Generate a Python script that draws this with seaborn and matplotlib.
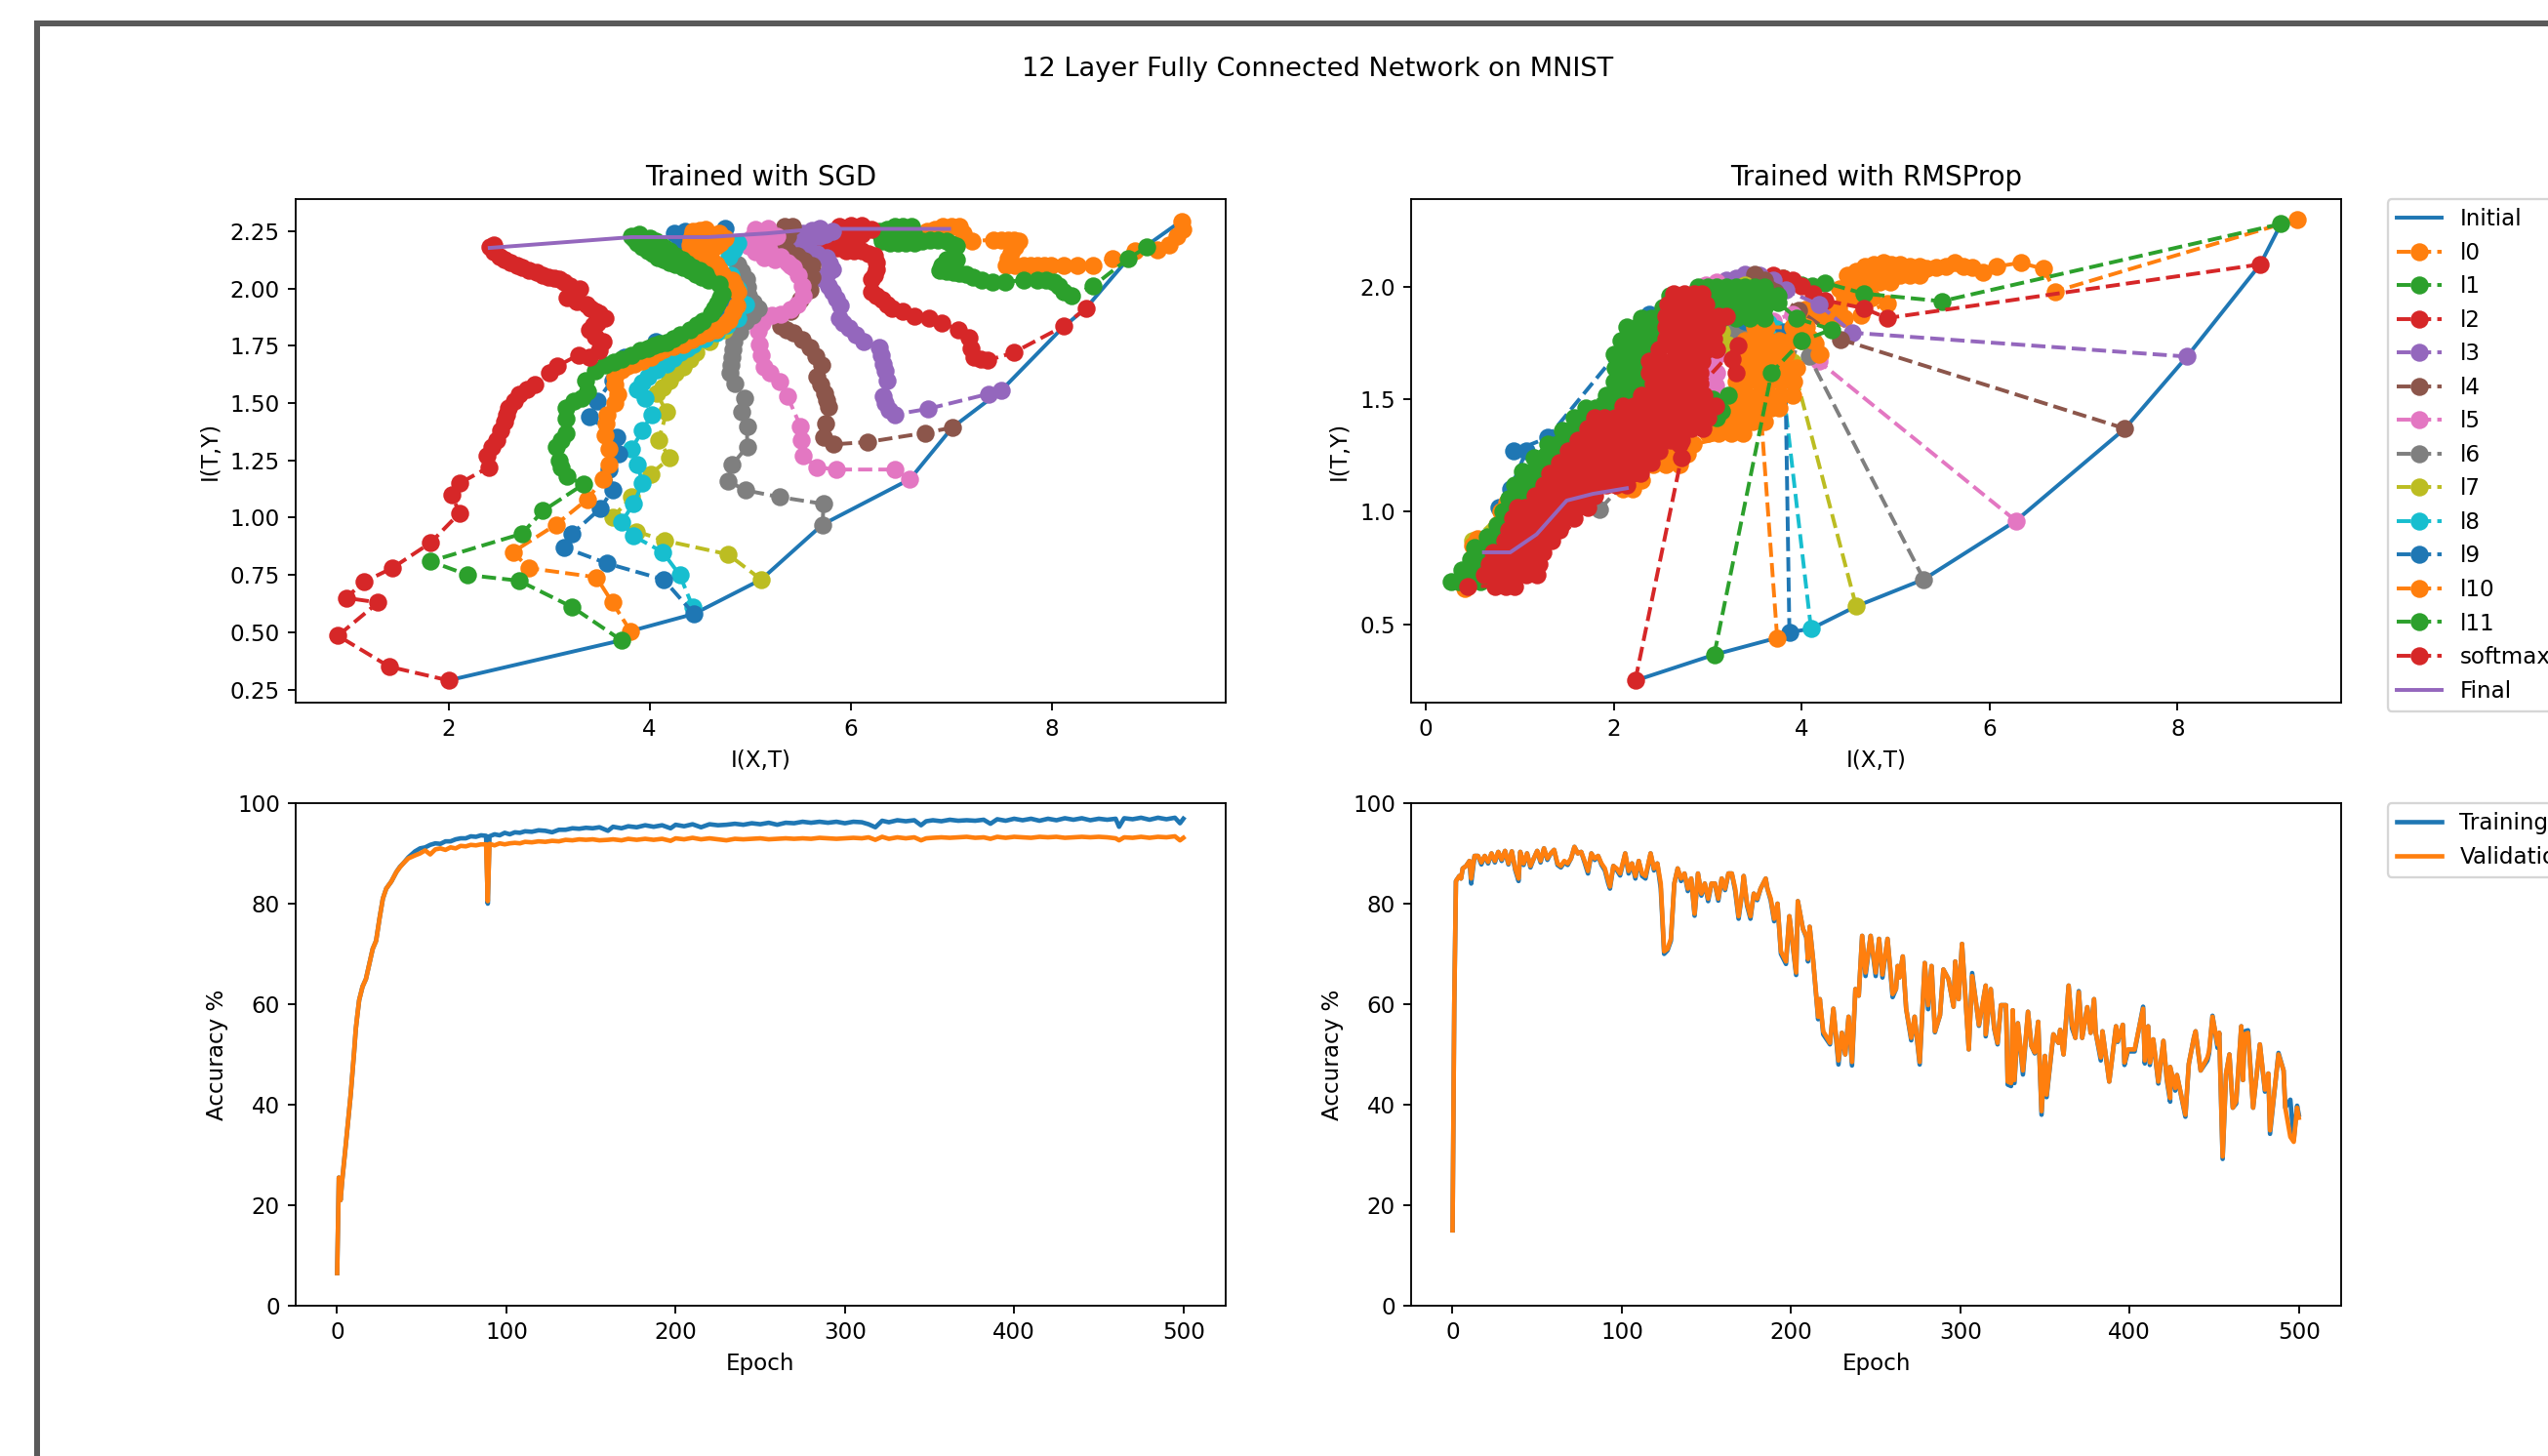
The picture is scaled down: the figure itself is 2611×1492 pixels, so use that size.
import matplotlib
matplotlib.use("Agg")
import matplotlib.pyplot as plt
from matplotlib.patches import Rectangle
import seaborn as sns

layer_names = ["l0", "l1", "l2", "l3", "l4", "l5", "l6", "l7", "l8", "l9", "l10", "l11", "softmax"]
colors = sns.color_palette("tab10")
layer_colors = [colors[1], colors[2], colors[3], colors[4], colors[5], colors[6], colors[7],
                colors[8], colors[9], colors[0], colors[1], colors[2], colors[3]]

# ---- SGD information plane, (I(X,T), I(T,Y))
sgd_initial = [(2.00, 0.29), (3.72, 0.465), (3.81, 0.505), (4.44, 0.58), (5.11, 0.73), (5.72, 0.97),
               (6.59, 1.168), (7.01, 1.393), (7.50, 1.556), (8.11, 1.83), (8.34, 1.914), (8.76, 2.13), (9.21, 2.27)]
sgd_final = [(2.41, 2.177), (3.82, 2.224), (4.58, 2.224), (5.16, 2.24), (5.67, 2.26), (6.98, 2.26)]

sgd_l0 = [(9.29, 2.29), (9.30, 2.26), (9.24, 2.23), (9.17, 2.19), (9.05, 2.17), (8.83, 2.165), (8.60, 2.13),
          (8.41, 2.10), (8.25, 2.10), (8.12, 2.10), (7.99, 2.10), (7.92, 2.10), (7.86, 2.10), (7.79, 2.10), (7.72, 2.10), (7.63, 2.10), (7.55, 2.10),
          (7.57, 2.13), (7.59, 2.156), (7.63, 2.18), (7.67, 2.206), (7.62, 2.21), (7.57, 2.213), (7.50, 2.213), (7.42, 2.213), (7.21, 2.206),
          (7.12, 2.242), (7.08, 2.27), (7.00, 2.27), (6.92, 2.27), (6.84, 2.26), (6.76, 2.25)]
sgd_l1 = [(8.94, 2.18), (8.76, 2.13), (8.41, 2.01), (8.20, 1.97), (8.12, 1.985), (8.07, 2.01), (8.02, 2.03), (7.94, 2.035), (7.86, 2.035), (7.72, 2.035),
          (7.54, 2.03), (7.41, 2.03), (7.30, 2.035), (7.22, 2.05), (7.15, 2.064), (7.08, 2.066), (7.02, 2.07), (6.95, 2.074), (6.89, 2.078), (6.91, 2.10),
          (6.95, 2.128), (7.05, 2.128), (7.05, 2.185), (7.00, 2.195), (6.95, 2.206), (6.87, 2.21), (6.79, 2.213), (6.71, 2.205), (6.63, 2.20), (6.55, 2.20),
          (6.47, 2.20), (6.39, 2.20), (6.31, 2.206), (6.30, 2.23), (6.28, 2.25), (6.36, 2.26), (6.44, 2.27), (6.52, 2.27), (6.60, 2.27), (6.62, 2.24), (6.60, 2.213),
          (6.50, 2.22), (6.41, 2.242), (6.50, 2.245)]
sgd_l2 = [(8.34, 1.914), (8.12, 1.836), (7.62, 1.72), (7.36, 1.686), (7.29, 1.69), (7.23, 1.70), (7.20, 1.74), (7.18, 1.786), (7.07, 1.82), (6.91, 1.85),
          (6.78, 1.87), (6.63, 1.879), (6.52, 1.90), (6.41, 1.914), (6.36, 1.93), (6.31, 1.95), (6.26, 1.97), (6.21, 1.985), (6.21, 2.042), (6.24, 2.06), (6.26, 2.085),
          (6.26, 2.115), (6.24, 2.142), (6.18, 2.15), (6.11, 2.163), (6.03, 2.163), (5.95, 2.163), (5.87, 2.175), (5.79, 2.185), (5.66, 2.192), (5.85, 2.20),
          (6.00, 2.215), (6.11, 2.235), (6.03, 2.235), (5.95, 2.228), (5.92, 2.25), (5.89, 2.27), (6.00, 2.275), (6.11, 2.277), (6.21, 2.256)]
sgd_l3 = [(7.50, 1.556), (7.37, 1.54), (6.77, 1.475), (6.44, 1.45), (6.38, 1.47), (6.34, 1.50), (6.32, 1.53), (6.36, 1.60), (6.34, 1.64),
          (6.32, 1.672), (6.30, 1.71), (6.28, 1.743), (6.13, 1.77), (6.05, 1.80), (5.98, 1.829), (5.93, 1.85), (5.89, 1.871), (5.90, 1.928), (5.86, 1.955), (5.82, 1.985),
          (5.78, 2.01), (5.73, 2.042), (5.77, 2.065), (5.82, 2.085), (5.79, 2.11), (5.76, 2.135), (5.66, 2.15), (5.56, 2.163), (5.43, 2.192), (5.48, 2.22),
          (5.53, 2.242), (5.61, 2.253), (5.69, 2.263), (5.82, 2.25), (5.75, 2.235), (5.69, 2.228), (5.60, 2.215)]
sgd_l4 = [(7.01, 1.393), (6.74, 1.37), (6.17, 1.33), (5.83, 1.32), (5.73, 1.35), (5.75, 1.41), (5.78, 1.485), (5.76, 1.515), (5.74, 1.544), (5.70, 1.58),
          (5.66, 1.615), (5.71, 1.665), (5.65, 1.705), (5.60, 1.743), (5.52, 1.775), (5.43, 1.807), (5.36, 1.82), (5.30, 1.836), (5.40, 1.90), (5.50, 1.95), (5.60, 1.993),
          (5.61, 2.05), (5.61, 2.10), (5.54, 2.12), (5.47, 2.142), (5.37, 2.165), (5.27, 2.185), (5.32, 2.205), (5.37, 2.228), (5.35, 2.25), (5.34, 2.27), (5.42, 2.27)]
sgd_l5 = [(6.59, 1.168), (6.44, 1.21), (5.86, 1.21), (5.66, 1.22), (5.53, 1.27), (5.51, 1.34), (5.50, 1.40), (5.37, 1.53), (5.29, 1.594), (5.20, 1.63),
          (5.14, 1.658), (5.11, 1.71), (5.09, 1.757), (5.08, 1.814), (5.12, 1.85), (5.16, 1.879), (5.22, 1.885), (5.30, 1.886), (5.40, 1.91), (5.47, 1.93), (5.53, 1.97),
          (5.52, 2.01), (5.48, 2.057), (5.43, 2.09), (5.37, 2.114), (5.25, 2.125), (5.14, 2.135), (5.05, 2.16), (4.98, 2.185), (5.01, 2.22), (5.05, 2.256), (5.18, 2.263),
          (5.27, 2.228), (5.18, 2.185), (5.10, 2.19), (5.20, 2.16), (5.30, 2.14), (5.40, 2.10), (5.05, 2.20), (5.15, 2.22)]
sgd_l6 = [(5.72, 0.97), (5.73, 1.06), (5.29, 1.09), (4.95, 1.12), (4.78, 1.16), (4.82, 1.23), (4.97, 1.31), (4.97, 1.40),
          (4.92, 1.46), (4.94, 1.52), (4.85, 1.587), (4.80, 1.63), (4.81, 1.665), (4.82, 1.70), (4.83, 1.735), (4.84, 1.77), (4.90, 1.81), (4.95, 1.857), (5.02, 1.885),
          (5.08, 1.914), (5.03, 1.94), (4.98, 1.97), (4.97, 2.005), (4.965, 2.04), (4.92, 2.075), (4.88, 2.106)]
sgd_l7 = [(5.11, 0.73), (4.78, 0.84), (4.15, 0.90), (3.87, 0.94), (3.63, 1.00), (3.82, 1.09), (4.01, 1.19), (4.20, 1.26),
          (4.09, 1.34), (4.17, 1.46), (4.07, 1.544), (4.13, 1.57), (4.20, 1.60), (4.26, 1.63), (4.33, 1.658), (4.40, 1.69), (4.46, 1.722), (4.60, 1.77), (4.74, 1.82)]
sgd_l8 = [(4.43, 0.61), (4.30, 0.75), (4.13, 0.85), (3.84, 0.92), (3.72, 0.98), (3.84, 1.06), (3.93, 1.15), (3.88, 1.23),
          (3.82, 1.30), (3.93, 1.38), (4.02, 1.45), (3.95, 1.52), (3.88, 1.558), (3.93, 1.59), (3.98, 1.615), (4.07, 1.645), (4.17, 1.672), (4.24, 1.695), (4.30, 1.72), (4.37, 1.74),
          (4.43, 1.757), (4.55, 1.78), (4.66, 1.807), (4.77, 1.84), (4.88, 1.87), (4.95, 1.93), (4.88, 2.00), (4.81, 2.06), (4.79, 2.14), (4.84, 2.17), (4.88, 2.20)]
sgd_l9 = [(4.44, 0.58), (4.14, 0.73), (3.58, 0.80), (3.15, 0.87), (3.23, 0.93), (3.51, 1.04), (3.63, 1.12), (3.60, 1.21),
          (3.69, 1.28), (3.67, 1.35), (3.40, 1.44), (3.48, 1.51), (3.63, 1.60), (3.75, 1.70), (4.06, 1.77), (4.30, 1.76), (4.60, 1.83),
          (4.80, 1.93), (4.70, 2.03), (4.40, 2.16), (4.30, 2.20), (4.25, 2.24), (4.35, 2.25), (4.75, 2.263)]
sgd_l10 = [(3.81, 0.505), (3.63, 0.63), (3.47, 0.74), (2.80, 0.78), (2.64, 0.85), (3.07, 0.97), (3.38, 1.08), (3.54, 1.17),
           (3.60, 1.23), (3.60, 1.30), (3.56, 1.36), (3.57, 1.41), (3.58, 1.45), (3.65, 1.50), (3.68, 1.54), (3.65, 1.58), (3.65, 1.615),
           (3.72, 1.643), (3.78, 1.66), (3.85, 1.67), (3.93, 1.685), (4.01, 1.70), (4.08, 1.72), (4.14, 1.736), (4.24, 1.745), (4.33, 1.757), (4.42, 1.775), (4.50, 1.793), (4.58, 1.805),
           (4.66, 1.82), (4.73, 1.84), (4.79, 1.864), (4.83, 1.895), (4.87, 1.928), (4.88, 1.985), (4.85, 2.01), (4.82, 2.035), (4.72, 2.064), (4.69, 2.085), (4.66, 2.106),
           (4.60, 2.115), (4.53, 2.128), (4.47, 2.145), (4.40, 2.163), (4.40, 2.19), (4.41, 2.213), (4.42, 2.23), (4.43, 2.25), (4.50, 2.255), (4.56, 2.256), (4.69, 2.242), (4.75, 2.22),
           (4.70, 2.20), (4.66, 2.185), (4.56, 2.17), (4.61, 2.128), (4.50, 2.20), (4.60, 2.21)]
sgd_l11 = [(3.72, 0.465), (3.23, 0.61), (2.70, 0.725), (2.19, 0.75), (1.82, 0.81), (2.73, 0.93), (2.94, 1.03), (3.34, 1.145),
           (3.18, 1.18), (3.12, 1.22), (3.10, 1.25), (3.07, 1.31), (3.12, 1.34), (3.17, 1.37), (3.17, 1.43), (3.17, 1.48),
           (3.25, 1.51), (3.32, 1.52), (3.38, 1.55), (3.36, 1.60), (3.46, 1.64), (3.56, 1.665), (3.64, 1.68), (3.72, 1.69), (3.82, 1.71), (3.91, 1.73), (3.98, 1.74),
           (4.04, 1.75), (4.10, 1.758), (4.17, 1.765), (4.24, 1.78), (4.30, 1.80), (4.40, 1.82), (4.47, 1.84), (4.53, 1.857), (4.61, 1.893), (4.64, 1.915), (4.67, 1.936), (4.70, 1.958),
           (4.72, 1.978), (4.69, 2.02), (4.59, 2.035), (4.52, 2.05), (4.46, 2.064), (4.40, 2.078), (4.33, 2.092), (4.26, 2.103), (4.20, 2.114), (4.14, 2.125), (4.08, 2.135), (4.03, 2.15),
           (3.98, 2.163), (3.93, 2.18), (3.88, 2.20), (3.85, 2.215), (3.82, 2.228), (3.90, 2.235), (4.00, 2.22), (4.06, 2.205), (4.11, 2.19), (4.15, 2.175), (4.20, 2.163), (4.26, 2.145),
           (4.32, 2.128), (4.37, 2.11), (4.43, 2.092), (4.50, 2.078), (4.56, 2.064)]
sgd_softmax = [(2.00, 0.29), (1.41, 0.35), (0.90, 0.485), (1.30, 0.63), (0.98, 0.65), (1.16, 0.72), (1.44, 0.78), (1.82, 0.89),
               (2.11, 1.02), (2.03, 1.10), (2.11, 1.15), (2.40, 1.22), (2.38, 1.27), (2.43, 1.31), (2.48, 1.34), (2.52, 1.38), (2.56, 1.42),
               (2.58, 1.45), (2.60, 1.48), (2.65, 1.51), (2.70, 1.54), (2.78, 1.56), (2.86, 1.58), (3.00, 1.63), (3.08, 1.66), (3.29, 1.71), (3.40, 1.70), (3.50, 1.73), (3.54, 1.77), (3.46, 1.79), (3.40, 1.82),
               (3.44, 1.84), (3.48, 1.85), (3.56, 1.87), (3.50, 1.89), (3.46, 1.90), (3.41, 1.915), (3.37, 1.93), (3.28, 1.945), (3.18, 1.96), (3.24, 1.98), (3.30, 2.00), (3.21, 2.01), (3.15, 2.03), (3.10, 2.04), (3.05, 2.045), (2.99, 2.05),
               (2.94, 2.06), (2.88, 2.07), (2.80, 2.08), (2.73, 2.09), (2.68, 2.10), (2.62, 2.115), (2.56, 2.125), (2.51, 2.14), (2.45, 2.16), (2.41, 2.18), (2.45, 2.19)]

# ---- RMSProp information plane
rms_initial = [(2.23, 0.25), (3.07, 0.365), (3.74, 0.44), (3.87, 0.465), (4.10, 0.48), (4.58, 0.58), (5.30, 0.70),
               (6.28, 0.96), (7.44, 1.37), (8.10, 1.69), (8.88, 2.10), (9.10, 2.28)]
rms_final = [(0.62, 0.82), (0.90, 0.82), (1.18, 0.90), (1.50, 1.05), (1.78, 1.08), (2.14, 1.105)]

rms_l0 = [(9.27, 2.30), (6.70, 1.98), (6.57, 2.08), (6.33, 2.107), (6.07, 2.09), (5.93, 2.064), (5.82, 2.086), (5.72, 2.09), (5.63, 2.107), (5.53, 2.09),
          (5.43, 2.085), (5.33, 2.08), (5.25, 2.09), (5.15, 2.09), (5.05, 2.10), (4.95, 2.10), (4.87, 2.107), (4.77, 2.10), (4.67, 2.09), (4.58, 2.07), (4.49, 2.05), (4.58, 2.03),
          (4.65, 2.05), (4.75, 2.06), (4.85, 2.06), (4.95, 2.05), (5.05, 2.05), (5.15, 2.05), (5.25, 2.05), (4.94, 2.02), (4.83, 2.02), (4.73, 2.02), (4.63, 2.00), (4.53, 1.99), (4.40, 1.99),
          (4.45, 1.95), (4.55, 1.95), (4.65, 1.95), (4.75, 1.95), (4.91, 1.926), (4.63, 1.876), (4.46, 1.86), (4.39, 1.905), (4.28, 1.91), (4.18, 1.93), (4.10, 1.91), (4.04, 1.90), (4.20, 1.87),
          (4.30, 1.84), (3.97, 1.81), (4.08, 1.774), (4.20, 1.70), (4.14, 1.75)]
rms_l1 = [(9.10, 2.28), (5.49, 1.936), (4.66, 1.97), (4.25, 2.018), (4.11, 2.006), (4.00, 2.01), (3.88, 2.02), (3.80, 2.04), (3.50, 2.05)]
rms_l2 = [(8.88, 2.10), (4.91, 1.861), (4.66, 1.905), (4.25, 1.94), (4.12, 1.97), (4.00, 2.006), (3.90, 2.03), (3.80, 2.04), (3.70, 2.05)]
rms_l3 = [(8.10, 1.69), (4.54, 1.796), (4.19, 1.92), (3.83, 1.985), (3.70, 2.03), (3.55, 2.05), (3.40, 2.055), (3.30, 2.04), (3.20, 2.03), (3.59, 1.81)]
rms_l4 = [(7.44, 1.37), (4.41, 1.767), (3.97, 1.897), (3.66, 1.99), (3.60, 2.03), (3.50, 2.055), (3.62, 2.00), (3.72, 1.98), (3.66, 1.96)]
rms_l5 = [(6.28, 0.96), (4.18, 1.67), (3.90, 1.88), (3.70, 1.85), (3.30, 1.80), (3.05, 1.68), (3.00, 1.586), (3.10, 1.62), (3.00, 1.50), (3.08, 1.56), (3.02, 1.64), (3.12, 1.70),
          (2.98, 2.01), (3.10, 2.02)]
rms_l6 = [(5.30, 0.70), (4.08, 1.69), (3.40, 1.78), (3.28, 1.796), (3.20, 1.82), (3.10, 1.75), (2.60, 1.35), (1.85, 1.01)]
rms_l7 = [(4.58, 0.58), (3.90, 1.665), (3.21, 1.745), (3.15, 1.80), (3.40, 2.01), (0.50, 0.87)]
rms_l8 = [(4.10, 0.48), (3.73, 1.815), (3.65, 1.84)]
rms_l9 = [(3.87, 0.465), (3.82, 1.80), (3.40, 1.85), (2.38, 1.88), (1.30, 1.33), (0.94, 1.27), (1.07, 1.27), (0.90, 1.10),
          (0.78, 1.02), (0.58, 0.70)]
rms_l10 = [(3.74, 0.44), (3.50, 1.82), (3.62, 1.82), (3.90, 1.82), (4.05, 1.82), (4.18, 1.70), (4.12, 1.76), (4.00, 1.76), (3.88, 1.76),
           (3.76, 1.76), (3.64, 1.76), (3.52, 1.76), (3.40, 1.76), (3.35, 1.70), (3.47, 1.70), (3.59, 1.70), (3.71, 1.70), (3.83, 1.70),
           (3.95, 1.64), (3.83, 1.64), (3.71, 1.64), (3.59, 1.64), (3.47, 1.64), (3.35, 1.64), (3.30, 1.58), (3.42, 1.58), (3.54, 1.58),
           (3.66, 1.58), (3.78, 1.58), (3.92, 1.58), (3.90, 1.52), (3.78, 1.52), (3.66, 1.52), (3.54, 1.52), (3.42, 1.52), (3.30, 1.52),
           (3.20, 1.46), (3.32, 1.46), (3.44, 1.46), (3.56, 1.46), (3.68, 1.46), (3.76, 1.46), (3.60, 1.40), (3.48, 1.40), (3.36, 1.40),
           (3.24, 1.40), (3.12, 1.40), (3.00, 1.40), (3.00, 1.35), (3.12, 1.35), (3.25, 1.35), (3.38, 1.35), (2.85, 1.30), (2.70, 1.30),
           (2.55, 1.30), (2.45, 1.26), (2.60, 1.26), (2.78, 1.26), (2.70, 1.21), (2.55, 1.21), (2.42, 1.21), (2.30, 1.14), (2.20, 1.10),
           (2.10, 1.10), (0.86, 1.04), (0.80, 1.00), (0.95, 1.00), (0.76, 0.94), (0.55, 0.88), (0.50, 0.85), (0.42, 0.66)]
rms_l11 = [(3.07, 0.365), (3.68, 1.618), (4.00, 1.76), (4.32, 1.81), (3.95, 1.86), (3.75, 1.93),
           (2.90, 2.00), (3.00, 2.00), (3.10, 2.00), (3.20, 2.00), (3.30, 2.00), (3.40, 2.00), (3.50, 2.00), (3.60, 2.00),
           (3.75, 1.96), (3.65, 1.96), (3.55, 1.96), (3.45, 1.96), (3.35, 1.96), (3.25, 1.96), (3.15, 1.96), (3.05, 1.96),
           (2.84, 1.96), (2.72, 1.96), (2.60, 1.96), (2.52, 1.91), (3.00, 1.91), (3.12, 1.91), (3.24, 1.91), (3.36, 1.91),
           (3.48, 1.91), (3.60, 1.91), (3.60, 1.86), (3.45, 1.86), (3.30, 1.86), (3.15, 1.86), (2.50, 1.86), (2.40, 1.86), (2.30, 1.86),
           (2.14, 1.82), (2.25, 1.82), (2.36, 1.82), (2.47, 1.82), (2.52, 1.76), (2.41, 1.76), (2.30, 1.76), (2.19, 1.76), (2.08, 1.76),
           (2.00, 1.70), (2.11, 1.70), (2.22, 1.70), (2.33, 1.70), (2.44, 1.70), (2.42, 1.64), (2.31, 1.64), (2.20, 1.64), (2.09, 1.64),
           (2.02, 1.64), (2.00, 1.58), (2.11, 1.58), (2.22, 1.58), (2.33, 1.58), (3.05, 1.50), (3.15, 1.45), (3.22, 1.52), (3.10, 1.42),
           (2.25, 1.52), (2.14, 1.52), (2.03, 1.52), (1.92, 1.52), (1.70, 1.46), (1.81, 1.46), (1.92, 1.46), (2.03, 1.46),
           (1.90, 1.42), (1.79, 1.42), (1.68, 1.42), (1.58, 1.42), (1.45, 1.36), (1.56, 1.36), (1.67, 1.36), (1.78, 1.36),
           (1.62, 1.30), (1.51, 1.30), (1.40, 1.30), (1.30, 1.30), (1.15, 1.24), (1.26, 1.24), (1.37, 1.24), (1.48, 1.24),
           (1.36, 1.18), (1.25, 1.18), (1.14, 1.18), (1.03, 1.18), (0.95, 1.12), (1.06, 1.12), (1.17, 1.12), (1.10, 1.06), (0.99, 1.06),
           (0.88, 1.06), (0.82, 1.00), (0.93, 1.00), (1.02, 1.00), (0.94, 0.94), (0.85, 0.94), (0.76, 0.94), (0.65, 0.89), (0.76, 0.89),
           (0.87, 0.89), (0.78, 0.84), (0.67, 0.84), (0.52, 0.84), (0.48, 0.79), (0.59, 0.79), (0.70, 0.79), (0.62, 0.74), (0.51, 0.74),
           (0.38, 0.74), (0.27, 0.69), (0.35, 0.69), (0.46, 0.69), (0.58, 0.69)]
rms_softmax = [(2.23, 0.25), (2.72, 1.24), (2.70, 1.30), (2.74, 1.39),
               (2.64, 1.97), (2.75, 1.97), (2.86, 1.97), (2.94, 1.97), (2.98, 1.92), (2.87, 1.92), (2.76, 1.92), (2.65, 1.92), (2.58, 1.92),
               (2.56, 1.87), (2.67, 1.87), (2.78, 1.87), (2.89, 1.87), (3.00, 1.87), (3.12, 1.87), (3.20, 1.87),
               (3.10, 1.82), (2.99, 1.82), (2.88, 1.82), (2.77, 1.82), (2.66, 1.82), (2.56, 1.82),
               (2.55, 1.77), (2.66, 1.77), (2.77, 1.77), (2.88, 1.77), (2.99, 1.77), (3.06, 1.77),
               (3.10, 1.72), (2.99, 1.72), (2.88, 1.72), (2.77, 1.72), (2.66, 1.72), (2.48, 1.72),
               (2.38, 1.67), (2.50, 1.67), (2.61, 1.67), (2.72, 1.67), (2.83, 1.67), (2.94, 1.67),
               (2.92, 1.62), (2.81, 1.62), (2.70, 1.62), (2.59, 1.62), (2.48, 1.62), (2.38, 1.62),
               (2.42, 1.57), (2.53, 1.57), (2.64, 1.57), (2.75, 1.57), (2.86, 1.57), (2.92, 1.57),
               (2.96, 1.52), (2.85, 1.52), (2.74, 1.52), (2.63, 1.52), (2.52, 1.52), (2.41, 1.52), (2.30, 1.52),
               (2.10, 1.47), (2.21, 1.47), (2.32, 1.47), (2.43, 1.47), (2.54, 1.47), (2.65, 1.47), (2.76, 1.47), (2.87, 1.47), (2.98, 1.47), (3.08, 1.47),
               (3.00, 1.42), (2.89, 1.42), (2.78, 1.42), (2.67, 1.42), (2.56, 1.42), (2.45, 1.42), (2.34, 1.42), (2.23, 1.42), (2.12, 1.42), (2.01, 1.42), (1.90, 1.42), (1.80, 1.42),
               (1.72, 1.37), (1.83, 1.37), (1.94, 1.37), (2.05, 1.37), (2.16, 1.37), (2.27, 1.37), (2.38, 1.37), (2.49, 1.37), (2.60, 1.37), (2.71, 1.37), (2.82, 1.37), (2.95, 1.37),
               (2.72, 1.32), (2.61, 1.32), (2.50, 1.32), (2.39, 1.32), (2.28, 1.32), (2.17, 1.32), (2.06, 1.32), (1.95, 1.32), (1.84, 1.32), (1.73, 1.32), (1.62, 1.32),
               (1.52, 1.27), (1.63, 1.27), (1.74, 1.27), (1.85, 1.27), (1.96, 1.27), (2.07, 1.27), (2.18, 1.27), (2.29, 1.27), (2.40, 1.27), (2.48, 1.27),
               (2.40, 1.22), (2.29, 1.22), (2.18, 1.22), (2.07, 1.22), (1.96, 1.22), (1.85, 1.22), (1.74, 1.22), (1.63, 1.22), (1.52, 1.22), (1.42, 1.22),
               (1.32, 1.17), (1.43, 1.17), (1.54, 1.17), (1.65, 1.17), (1.76, 1.17), (1.87, 1.17), (1.98, 1.17), (2.09, 1.17), (2.20, 1.17), (2.28, 1.17),
               (2.14, 1.12), (2.03, 1.12), (1.92, 1.12), (1.81, 1.12), (1.70, 1.12), (1.59, 1.12), (1.48, 1.12), (1.37, 1.12), (1.26, 1.12),
               (1.16, 1.07), (1.27, 1.07), (1.38, 1.07), (1.49, 1.07), (1.60, 1.07), (1.71, 1.07), (1.80, 1.07),
               (1.72, 1.02), (1.61, 1.02), (1.50, 1.02), (1.39, 1.02), (1.28, 1.02), (1.17, 1.02), (1.06, 1.02), (0.98, 1.02),
               (0.92, 0.97), (1.03, 0.97), (1.14, 0.97), (1.25, 0.97), (1.36, 0.97), (1.47, 0.97), (1.58, 0.97),
               (1.42, 0.92), (1.31, 0.92), (1.20, 0.92), (1.09, 0.92), (0.98, 0.92), (0.88, 0.92),
               (0.84, 0.87), (0.95, 0.87), (1.06, 0.87), (1.17, 0.87), (1.28, 0.87), (1.34, 0.87),
               (1.25, 0.82), (1.14, 0.82), (1.03, 0.82), (0.92, 0.82), (0.81, 0.82), (0.72, 0.82),
               (0.68, 0.77), (0.79, 0.77), (0.90, 0.77), (1.01, 0.77), (1.12, 0.77), (1.20, 0.77),
               (1.18, 0.72), (1.07, 0.72), (0.96, 0.72), (0.85, 0.72), (0.74, 0.72), (0.62, 0.72),
               (0.45, 0.67), (0.74, 0.67), (0.85, 0.67), (0.95, 0.67), (3.32, 1.74), (3.26, 1.68), (3.30, 1.62)]

# ---- accuracy curves, rows are (epoch, training, validation)
sgd_acc = [(0, 6.5, 6.5), (1, 25.5, 25.5), (2, 21, 21), (3, 25, 25), (5, 31.7, 31.7), (8, 42, 42), (10, 50.4, 50.4), (11, 55, 55), (12, 58, 58),
           (13, 60.8, 60.8), (15, 63.5, 63.5), (17, 65, 65), (19, 68, 68), (21, 71, 71), (23, 72.6, 72.6), (25, 77, 77), (27, 81, 81), (29, 83, 83), (32, 84.4, 84.4),
           (35, 86.3, 86.3), (37, 87.3, 87.2), (39, 88, 88), (42, 89.2, 89),
           (46, 90.4, 89.6), (49, 91, 90), (52, 91.2, 90.6), (55, 91.7, 89.8), (58, 92, 90.8), (61, 91.9, 91), (64, 92.4, 90.7),
           (67, 92.4, 91.2), (70, 92.8, 91), (73, 93, 91.5), (76, 93, 91.4), (79, 93.4, 91.7), (82, 93.3, 91.6), (85, 93.6, 91.8),
           (88, 93.5, 91.8), (89, 80, 80.5), (90, 93.4, 91.9), (93, 93.8, 91.6), (96, 93.6, 92), (99, 94.1, 91.8), (102, 93.8, 92),
           (105, 94.2, 92.1), (108, 94.1, 92), (111, 94.4, 92.3), (115, 94.3, 92.2), (119, 94.6, 92.4), (123, 94.5, 92.3), (127, 94.2, 92.5),
           (131, 94.7, 92.4), (135, 94.7, 92.7), (139, 95, 92.6), (143, 94.9, 92.8), (147, 95.1, 92.7), (151, 95, 92.8), (155, 95.2, 92.6),
           (160, 94.5, 92.7), (163, 95.3, 92.8), (168, 95, 92.6), (172, 95.4, 92.9), (177, 95.2, 92.7), (182, 95.6, 92.9), (187, 95.3, 92.7),
           (192, 95.6, 92.9), (197, 95, 92.5), (200, 95.7, 93), (205, 95.4, 92.8), (210, 95.8, 93.1), (215, 95.2, 92.8), (220, 95.8, 93),
           (225, 95.6, 92.8), (230, 95.7, 92.6), (235, 95.9, 92.9), (240, 95.7, 92.8), (245, 96, 92.9), (250, 95.8, 93), (255, 96.1, 92.8),
           (260, 95.7, 92.9), (265, 96.1, 93), (270, 96, 92.9), (275, 96.3, 93), (280, 96.1, 92.9), (285, 96.3, 93.1), (290, 96.1, 93),
           (295, 96.3, 92.9), (300, 96, 93), (305, 96.3, 93.1), (310, 96.2, 93), (314, 95.8, 93.2), (318, 95.2, 92.7), (322, 96.5, 93.3),
           (326, 96.2, 92.9), (331, 96.6, 93.2), (336, 96.4, 93), (341, 96.6, 93.2), (345, 95.6, 92.6), (348, 96.4, 93), (352, 96.6, 93.1),
           (357, 96.4, 93.2), (362, 96.7, 93.1), (367, 96.5, 93.2), (372, 96.6, 93.3), (377, 96.5, 93.1), (382, 96.7, 93.2), (386, 95.9, 92.9),
           (390, 96.8, 93.3), (395, 96.5, 93.1), (400, 96.9, 93.3), (405, 96.6, 93.2), (410, 96.9, 93.1), (415, 96.5, 93.3), (420, 96.9, 93.2),
           (425, 96.6, 93.3), (430, 97, 93.1), (435, 96.7, 93.2), (440, 97, 93.3), (445, 96.6, 93.2), (450, 96.9, 93.3), (455, 96.7, 93.2),
           (460, 96.9, 93), (462, 95.3, 92.6), (465, 97, 93.2), (470, 96.8, 93.1), (475, 97.1, 93.3), (480, 96.7, 93.1), (485, 97.1, 93.3),
           (490, 96.8, 93.2), (495, 97.1, 93.4), (498, 96, 92.6), (500, 96.9, 93.1)]
rms_acc = [(0, 15, 15), (1, 60, 60), (2, 84.5, 84.5), (4, 85.5, 85.5), (5, 85, 85), (6, 87, 87), (8, 87.5, 87.5), (10, 88.5, 88.5),
           (11, 84, 85), (13, 89.5, 89.5), (15, 89.5, 89.5), (17, 87.8, 88.2), (19, 89.5, 89.5), (21, 88, 88.3), (23, 90, 90),
           (25, 88.2, 88.5), (27, 90.3, 90.3), (29, 88.5, 88.8), (31, 90.5, 90.5), (33, 87.8, 88), (35, 90.4, 90.4), (37, 86.7, 87),
           (39, 84.5, 85), (40, 90.3, 90.3), (42, 87.7, 88), (44, 90, 90), (46, 87.2, 87.5), (48, 89, 89), (50, 90.5, 90.5),
           (52, 88.2, 88.5), (54, 91, 91), (56, 88.7, 89), (58, 90, 90), (60, 90.7, 90.7), (62, 87.7, 88), (64, 87.2, 87.5),
           (66, 88.2, 88.5), (68, 87.7, 88), (70, 89, 89), (72, 91.3, 91.3), (74, 90, 90), (76, 90.3, 90.3), (78, 88.2, 88.5),
           (80, 86, 86.5), (82, 90, 90), (84, 88.7, 89), (86, 89.5, 89.5), (88, 87.7, 88), (90, 86.6, 87), (92, 84, 84.5),
           (93, 83, 83.4), (95, 87.5, 87.5), (97, 86.7, 87), (99, 85.6, 86), (102, 90, 90), (104, 86, 86.5), (106, 88, 88),
           (108, 85, 85.5), (110, 88.5, 88.5), (112, 85.5, 86), (114, 85, 85.5), (117, 90, 90), (119, 86.6, 87), (121, 88, 88),
           (123, 83, 84), (125, 70, 70.5), (127, 70.7, 71), (129, 72.6, 73), (131, 84, 84), (133, 87, 87), (135, 84.5, 85),
           (137, 86, 86), (139, 82.5, 83), (141, 85, 85), (143, 77.6, 78), (145, 86, 86), (147, 81.6, 82), (149, 84, 84),
           (151, 80.5, 81), (153, 84, 84), (155, 84, 84), (157, 80.6, 81), (159, 85, 85), (161, 82.7, 83), (163, 86, 86),
           (165, 86, 86), (167, 82.5, 83), (169, 77, 77.5), (171, 82, 82), (172, 85.5, 85.5), (174, 79.6, 80), (176, 77, 77.5),
           (178, 82, 82), (180, 80.7, 81), (182, 83, 83), (185, 85, 85), (186, 83, 83), (188, 80.6, 81), (190, 76.5, 77),
           (192, 80, 80), (194, 70, 70.5), (197, 68, 68.5), (199, 77.5, 77.5), (203, 65.8, 66.3), (204, 80.5, 80.5), (207, 75, 75),
           (209, 73.3, 73.6), (210, 68.5, 69), (211, 75.4, 75.4), (213, 68.9, 68.9), (216, 57, 57.5), (217, 61, 61), (219, 54, 54.6), (223, 52, 52.3),
           (225, 59.1, 59.1), (228, 48, 48.8), (230, 54.3, 54.3), (232, 50, 50), (234, 57.5, 57.5), (236, 47.8, 48.5), (238, 63, 63), (240, 61.7, 61.7),
           (242, 73.6, 73.6), (244, 65.6, 66.3), (247, 73.6, 73.6), (250, 65.6, 66.3), (252, 73, 73), (254, 65.3, 65.9), (257, 73, 73),
           (260, 61.4, 62), (262, 63, 63), (263, 67.6, 67.6), (264, 65.3, 65.3), (266, 69.5, 69.5), (268, 59.1, 59.1), (271, 52.8, 53.3), (273, 57.5, 57.5), (276, 48, 48.5),
           (279, 68.2, 68.2), (281, 59, 59.8), (283, 67.6, 67.6), (285, 54.4, 54.6), (288, 57.8, 57.8), (290, 66.9, 66.9), (293, 65, 65), (296, 59.5, 59.5),
           (297, 68.5, 68.5), (299, 61, 61), (301, 72, 72), (305, 51, 51), (307, 66.2, 65.6), (309, 61, 61), (311, 55.7, 55.9), (315, 63.7, 63.7),
           (315, 53.6, 54), (318, 63, 63), (320, 55.1, 55.3), (322, 52, 52.3), (324, 59.8, 59.8), (327, 59.8, 59.8), (328, 44, 44.6), (330, 43.7, 44.3),
           (331, 58.8, 58.8), (332, 44.3, 44.9), (334, 56.2, 56.2), (337, 46, 46.8), (340, 58.5, 58.5), (342, 51.7, 51.7), (344, 50.2, 50.4), (346, 56.5, 56.5),
           (348, 38, 38.7), (350, 49.7, 49.7), (351, 41.5, 42), (355, 54, 54), (358, 52.3, 52.3), (359, 54.9, 54.9), (361, 50, 50), (364, 63.7, 63.7), (366, 55.2, 55.9),
           (368, 53.3, 53.3), (370, 62.6, 62.4), (372, 53.3, 53.3), (375, 59.4, 59.4), (377, 54.3, 54.3), (379, 61, 61), (380, 54.3, 54.3), (383, 48.8, 49.4), (384, 54.6, 54.6),
           (388, 44.6, 44.6), (392, 55.6, 55.6), (393, 52.5, 52.7), (396, 55.9, 55.9), (397, 47.9, 48.4), (399, 50.6, 51), (403, 50.6, 51), (408, 59.5, 59.1), (409, 48.2, 48.8),
           (411, 55.6, 55.6), (412, 47.9, 48.4), (414, 53, 53), (417, 44.2, 44.6), (420, 52.7, 52.7), (422, 44.9, 45.2), (424, 40.6, 41.3), (424, 47.5, 47.5), (427, 42.8, 43.3),
           (428, 45.9, 45.9), (433, 37.6, 38), (435, 48.1, 48.1), (438, 53.3, 53.3), (439, 54.6, 54.6), (442, 46.8, 46.8), (446, 48.8, 49.4), (447, 50.2, 50.7), (449, 57.7, 57.5),
           (452, 51.3, 52), (453, 54.3, 54.3), (455, 29.2, 29.7), (457, 46, 46.2), (459, 50, 50), (461, 39.4, 39.4), (463, 40.2, 40.7), (466, 55.6, 55.6), (467, 44.9, 44.9),
           (468, 54.6, 54), (470, 54.8, 54.3), (473, 39.4, 39.4), (477, 52, 52), (480, 42.6, 43), (482, 46.2, 46.2), (483, 34.2, 34.9), (488, 50.3, 50), (491, 46.8, 46.8),
           (492, 39.4, 39.4), (495, 41, 33.6), (497, 33, 32.6), (499, 39.8, 39.4), (500, 38, 37.4)]


def draw_path(ax, pts, color, label, dashed=False):
    xs = [p[0] for p in pts]
    ys = [p[1] for p in pts]
    if dashed:
        sns.lineplot(x=xs, y=ys, sort=False, estimator=None, ax=ax, color=color, label=label, legend=False,
                     linewidth=1.7, linestyle="--", marker="o", markersize=7, markeredgewidth=1, markeredgecolor=color)
    else:
        sns.lineplot(x=xs, y=ys, sort=False, estimator=None, ax=ax, color=color, label=label, legend=False, linewidth=1.7)


def draw_plane(ax, initial, layers, final):
    draw_path(ax, initial, colors[0], "Initial")
    for name, col, pts in zip(layer_names, layer_colors, layers):
        draw_path(ax, pts, col, name, dashed=True)
    draw_path(ax, final, colors[4], "Final")
    ax.set_xlabel("I(X,T)")
    ax.set_ylabel("I(T,Y)")


def draw_acc(ax, rows):
    ep = [r[0] for r in rows]
    sns.lineplot(x=ep, y=[r[1] for r in rows], sort=False, estimator=None, ax=ax, color=colors[0], label="Training", legend=False, linewidth=2)
    sns.lineplot(x=ep, y=[r[2] for r in rows], sort=False, estimator=None, ax=ax, color=colors[1], label="Validation", legend=False, linewidth=2)
    ax.set_xlabel("Epoch")
    ax.set_ylabel("Accuracy %")
    ax.set_xlim(-24.5, 525)
    ax.set_ylim(0, 100)
    ax.set_xticks([0, 100, 200, 300, 400, 500])
    ax.set_yticks([0, 20, 40, 60, 80, 100])


W, H = 2611, 1492
fig = plt.figure(figsize=(W / 166, H / 166), dpi=166)


def add_ax(left, right, top, bottom):
    return fig.add_axes([left / W, 1 - bottom / H, (right - left) / W, (bottom - top) / H])


ax_sgd = add_ax(303, 1256, 204, 720)
ax_rms = add_ax(1446, 2399, 204, 720)
ax_sgd_acc = add_ax(303, 1256, 823, 1338)
ax_rms_acc = add_ax(1446, 2399, 823, 1338)

draw_plane(ax_sgd, sgd_initial, [sgd_l0, sgd_l1, sgd_l2, sgd_l3, sgd_l4, sgd_l5, sgd_l6, sgd_l7, sgd_l8, sgd_l9, sgd_l10, sgd_l11, sgd_softmax], sgd_final)
ax_sgd.set_title("Trained with SGD")
ax_sgd.set_xlim(0.48, 9.73)
ax_sgd.set_ylim(0.193, 2.39)
ax_sgd.set_xticks([2, 4, 6, 8])
ax_sgd.set_yticks([0.25, 0.5, 0.75, 1.0, 1.25, 1.5, 1.75, 2.0, 2.25])

draw_plane(ax_rms, rms_initial, [rms_l0, rms_l1, rms_l2, rms_l3, rms_l4, rms_l5, rms_l6, rms_l7, rms_l8, rms_l9, rms_l10, rms_l11, rms_softmax], rms_final)
ax_rms.set_title("Trained with RMSProp")
ax_rms.set_xlim(-0.155, 9.74)
ax_rms.set_ylim(0.152, 2.39)
ax_rms.set_xticks([0, 2, 4, 6, 8])
ax_rms.set_yticks([0.5, 1.0, 1.5, 2.0])
ax_rms.legend(loc="upper left", bbox_to_anchor=(1.05, 1.0), borderaxespad=0)

draw_acc(ax_sgd_acc, sgd_acc)
draw_acc(ax_rms_acc, rms_acc)
ax_rms_acc.legend(loc="upper left", bbox_to_anchor=(1.05, 1.0), borderaxespad=0)

fig.suptitle("12 Layer Fully Connected Network on MNIST", x=811 / 1568, y=1 - 42.5 / 896, va="center", fontsize=11.8)

# grey frame of the original screenshot, runs off the right and bottom edge
fig.add_artist(Rectangle((38 / W, -0.05), 1.2, 1.05 - 24 / H, transform=fig.transFigure, fill=False,
                         edgecolor="#5a5a5a", linewidth=2.6))

fig.savefig("out.png", dpi=166)
